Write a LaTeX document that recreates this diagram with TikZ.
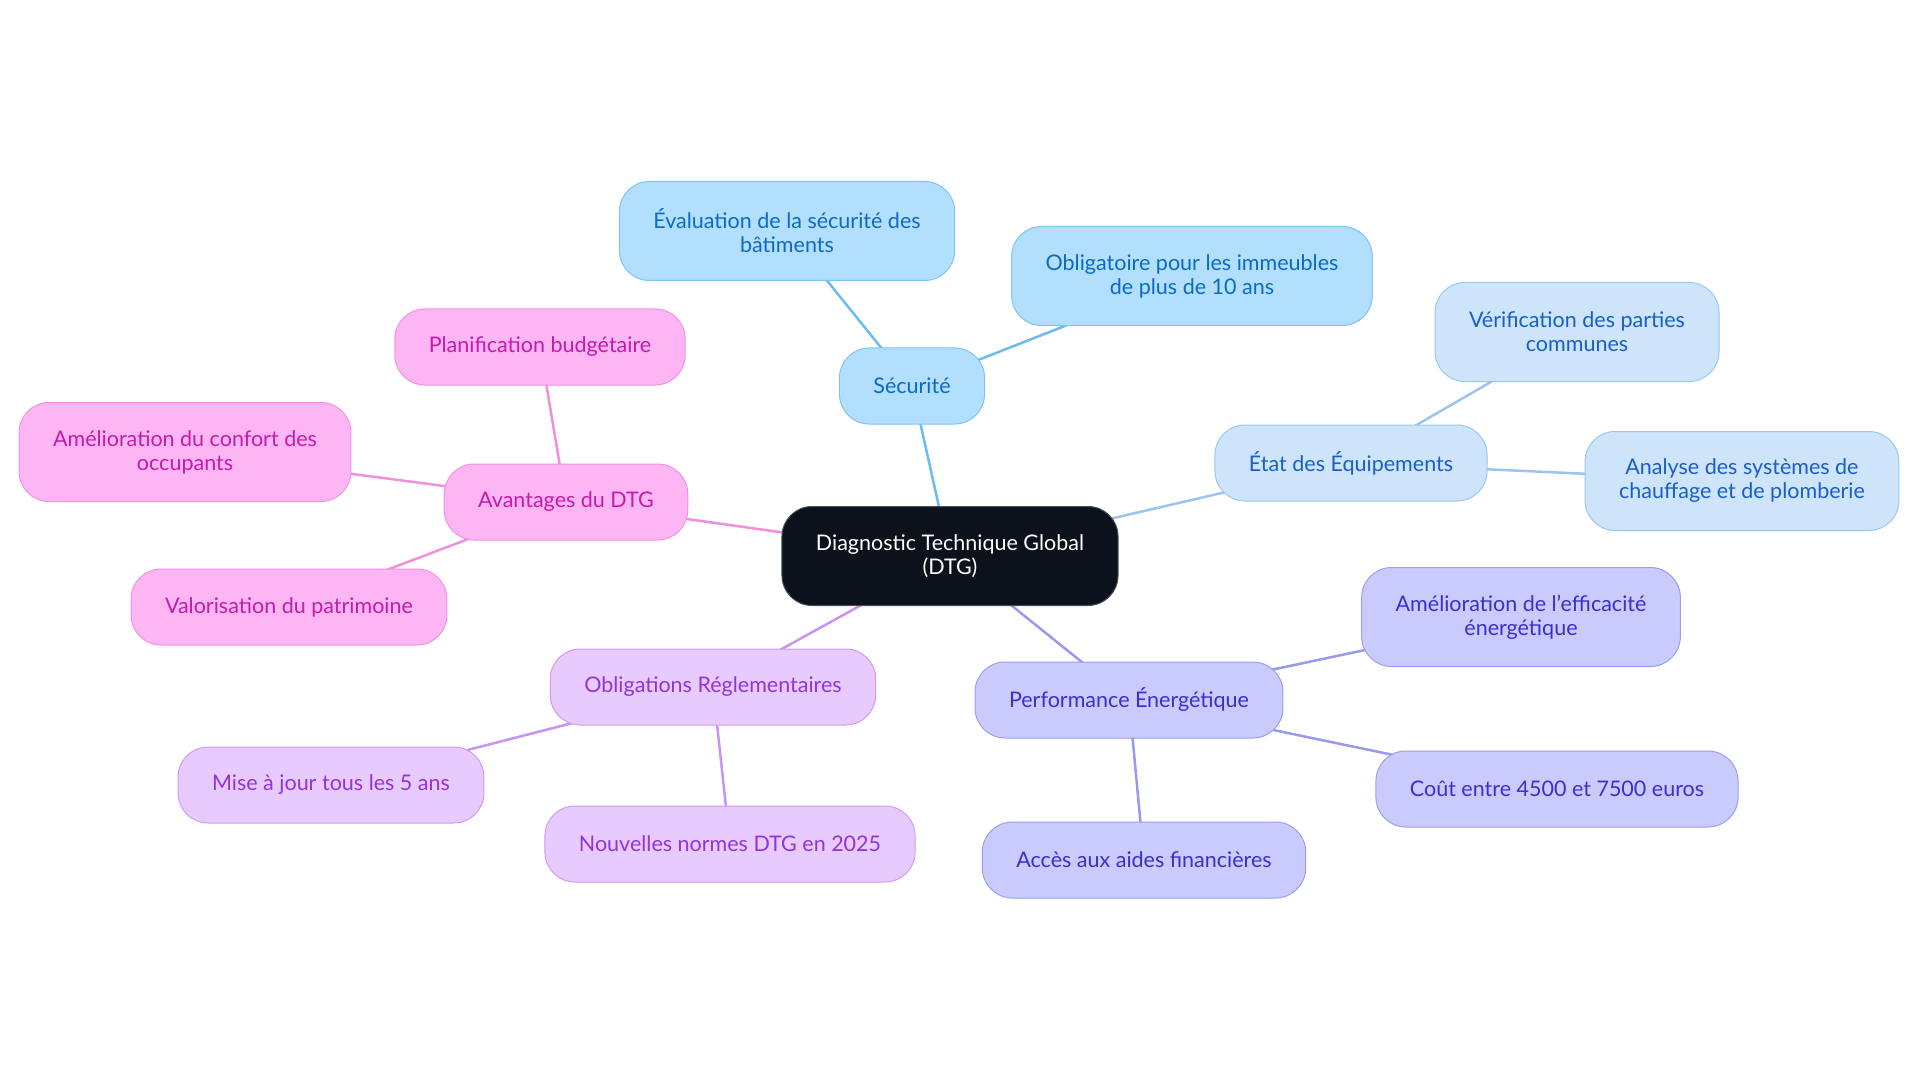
\documentclass[tikz,border=0pt]{standalone}
\usepackage{fontspec}
\setmainfont{Lato}
\usepackage{tikz}
\usetikzlibrary{backgrounds}
\definecolor{rootfill}{HTML}{0C121C}
\definecolor{rootdraw}{HTML}{4A4F57}
\definecolor{secfill}{HTML}{B3DFFE}
\definecolor{secdraw}{HTML}{7EC4F2}
\definecolor{sectext}{HTML}{0B6BC4}
\definecolor{secedge}{HTML}{6EBBF0}
\definecolor{equipfill}{HTML}{CDE4FB}
\definecolor{equipdraw}{HTML}{9CC6F0}
\definecolor{equiptext}{HTML}{1A5FC8}
\definecolor{equipedge}{HTML}{9DC3EF}
\definecolor{energyfill}{HTML}{C9CBFD}
\definecolor{energydraw}{HTML}{9C9EF2}
\definecolor{energytext}{HTML}{3B2FD1}
\definecolor{energyedge}{HTML}{9A99F0}
\definecolor{reglfill}{HTML}{E8CBFE}
\definecolor{regldraw}{HTML}{CF9BF2}
\definecolor{regltext}{HTML}{9333D8}
\definecolor{regledge}{HTML}{C994F0}
\definecolor{avanfill}{HTML}{FDB5F3}
\definecolor{avandraw}{HTML}{F291E2}
\definecolor{avantext}{HTML}{C51BAE}
\definecolor{avanedge}{HTML}{F08FDE}
\tikzset{
    mapbox/.style={
        rounded corners=30pt,
        align=center,
        line width=1pt,
        minimum height=76pt,
        inner xsep=34pt,
        inner ysep=6pt,
        font=\fontsize{21.5}{24}\selectfont
    },
    twoline/.style={minimum height=99pt},
    rootbox/.style={mapbox, twoline, fill=rootfill, draw=rootdraw, text=white},
    secbox/.style={mapbox, fill=secfill, draw=secdraw, text=sectext},
    equipbox/.style={mapbox, fill=equipfill, draw=equipdraw, text=equiptext},
    energybox/.style={mapbox, fill=energyfill, draw=energydraw, text=energytext},
    reglbox/.style={mapbox, fill=reglfill, draw=regldraw, text=regltext},
    avanbox/.style={mapbox, fill=avanfill, draw=avandraw, text=avantext},
    branch/.style={line width=2.5pt}
}
\begin{document}
\begin{tikzpicture}[x=1pt, y=-1pt]
    \useasboundingbox (0,0) rectangle (1920,1083);

    \node[rootbox] (dtg) at (950,556) {Diagnostic Technique Global\\(DTG)};

    \node[secbox] (secu) at (912,386) {Sécurité};
    \node[secbox, twoline] (evalsec) at (787,231) {Évaluation de la sécurité des\\bâtiments};
    \node[secbox, twoline] (oblig10) at (1192,276) {Obligatoire pour les immeubles\\de plus de 10 ans};

    \node[equipbox] (etat) at (1351,463) {État des Équipements};
    \node[equipbox, twoline] (verif) at (1577,332) {Vérification des parties\\communes};
    \node[equipbox, twoline] (analyse) at (1742,481) {Analyse des systèmes de\\chauffage et de plomberie};

    \node[energybox] (perf) at (1129,700) {Performance Énergétique};
    \node[energybox, twoline] (efficac) at (1521,617) {Amélioration de l'efficacité\\énergétique};
    \node[energybox] (cout) at (1557,789) {Coût entre 4500 et 7500 euros};
    \node[energybox] (aides) at (1144,860) {Accès aux aides financières};

    \node[reglbox] (regl) at (713,687) {Obligations Réglementaires};
    \node[reglbox] (majour) at (331,785) {Mise à jour tous les 5 ans};
    \node[reglbox] (normes) at (730,844) {Nouvelles normes DTG en 2025};

    \node[avanbox] (avan) at (566,502) {Avantages du DTG};
    \node[avanbox] (budget) at (540,347) {Planification budgétaire};
    \node[avanbox, twoline] (confort) at (185,452) {Amélioration du confort des\\occupants};
    \node[avanbox] (valor) at (289,607) {Valorisation du patrimoine};

    \begin{pgfonlayer}{background}
        \draw[branch, secedge] (dtg.center) -- (secu.center);
        \draw[branch, secedge] (secu.center) -- (evalsec.center);
        \draw[branch, secedge] (secu.center) -- (oblig10.center);
        \draw[branch, equipedge] (dtg.center) -- (etat.center);
        \draw[branch, equipedge] (etat.center) -- (verif.center);
        \draw[branch, equipedge] (etat.center) -- (analyse.center);
        \draw[branch, energyedge] (dtg.center) -- (perf.center);
        \draw[branch, energyedge] (perf.center) -- (efficac.center);
        \draw[branch, energyedge] (perf.center) -- (cout.center);
        \draw[branch, energyedge] (perf.center) -- (aides.center);
        \draw[branch, regledge] (dtg.center) -- (regl.center);
        \draw[branch, regledge] (regl.center) -- (majour.center);
        \draw[branch, regledge] (regl.center) -- (normes.center);
        \draw[branch, avanedge] (dtg.center) -- (avan.center);
        \draw[branch, avanedge] (avan.center) -- (budget.center);
        \draw[branch, avanedge] (avan.center) -- (confort.center);
        \draw[branch, avanedge] (avan.center) -- (valor.center);
    \end{pgfonlayer}
\end{tikzpicture}
\end{document}
